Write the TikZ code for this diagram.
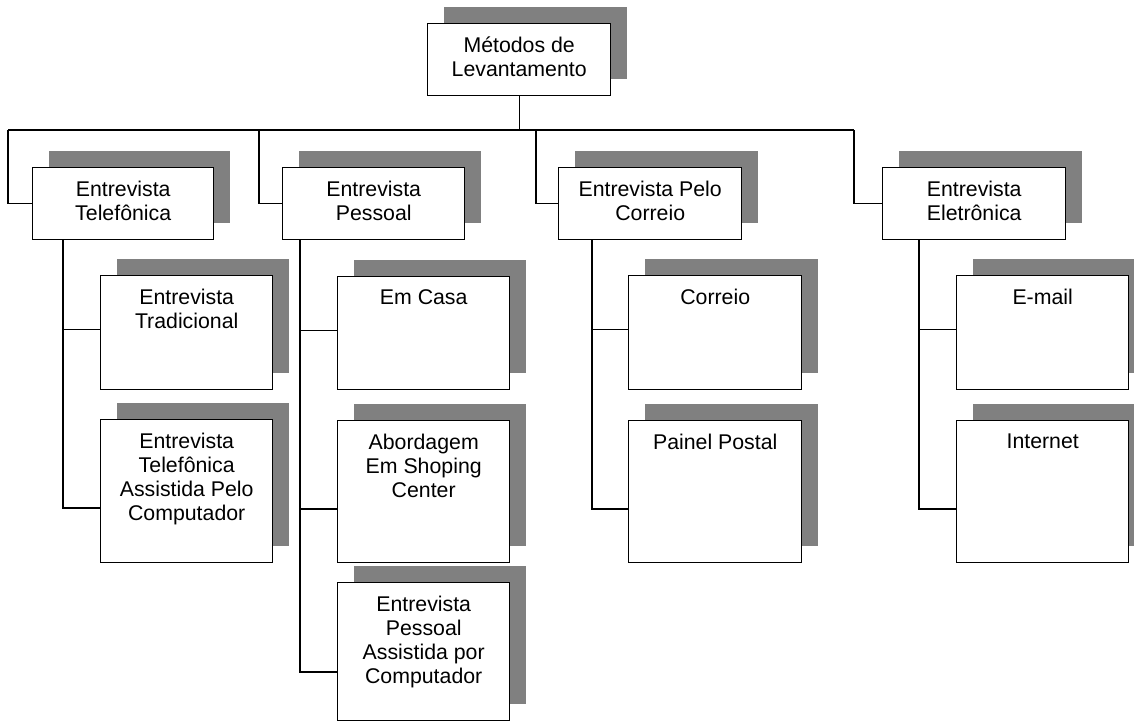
\documentclass[tikz,border=0pt]{standalone}
\usepackage{fontspec}
\setmainfont{Liberation Sans}
\usetikzlibrary{calc}
\definecolor{shadowgray}{HTML}{808080}
\tikzset{
  x=1pt,y=1pt,
  wire/.style={draw=black,line width=1.3pt},
  boxframe/.style={draw=black,fill=white,line width=1.4pt,inner sep=0pt,anchor=north west},
  boxshadow/.style={fill=shadowgray,draw=none},
  boxtext/.style={anchor=north,inner sep=0pt,align=center,font=\fontsize{21.3}{24}\selectfont}
}
% \orgbox{name}{left}{top}{right}{bottom}{text}
\newcommand{\orgbox}[6]{%
  \fill[boxshadow] (#2+17,-#3+16) rectangle (#4+17,-#5+16);
  \node[boxframe,minimum width=#4-#2,minimum height=#5-#3] (#1) at (#2,-#3) {};
  \node[boxtext] (#1-t) at ([yshift=-13.5pt]#1.north) {#6};
}
\begin{document}
\begin{tikzpicture}
\useasboundingbox (0,0) rectangle (1134,-722);
\clip (0,0) rectangle (1134,-722);

\coordinate (bus-l) at (8,-130);
\coordinate (bus-r) at (854,-130);

\orgbox{top}{427}{23}{610}{95}{Métodos de\\Levantamento}

\orgbox{tel}{32}{167}{213}{239}{Entrevista\\Telefônica}
\orgbox{pes}{282}{167}{464}{239}{Entrevista\\Pessoal}
\orgbox{cor}{558}{167}{741}{239}{Entrevista Pelo\\Correio}
\orgbox{ele}{882}{167}{1065}{239}{Entrevista\\Eletrônica}

\orgbox{trad}{100}{275}{272}{389}{Entrevista\\Tradicional}
\orgbox{tas}{100}{419}{272}{562}{Entrevista\\Telefônica\\Assistida Pelo\\Computador}

\orgbox{casa}{337}{276}{509}{389}{Em Casa}
\orgbox{abord}{337}{420}{509}{562}{Abordagem\\Em Shoping\\Center}
\orgbox{epac}{337}{582}{509}{720}{Entrevista\\Pessoal\\Assistida por\\Computador}

\orgbox{correio}{628}{275}{801}{389}{Correio}
\orgbox{painel}{628}{420}{801}{562}{Painel Postal}

\orgbox{email}{956}{275}{1128}{389}{E-mail}
\orgbox{inet}{956}{420}{1128}{562}{Internet}

% top level
\draw[wire] (top.south) -- (top.south |- bus-l);
\draw[wire] (bus-l) -- (bus-r);
\draw[wire] (bus-l) |- (tel.west);
\draw[wire] (259,-130) |- (pes.west);
\draw[wire] (536,-130) |- (cor.west);
\draw[wire] (bus-r) |- (ele.west);

% telefonica children
\coordinate (tel-d) at ($(tel.south west)+(31,0)$);
\draw[wire] (tel-d) |- ([yshift=-89pt]tas.north west);
\draw[wire] ([yshift=3pt]trad.west -| tel-d) -- ([yshift=3pt]trad.west);

% pessoal children
\coordinate (pes-d) at ($(pes.south west)+(18,0)$);
\draw[wire] (pes-d) |- ([yshift=-90pt]epac.north west);
\draw[wire] ([yshift=3pt]casa.west -| pes-d) -- ([yshift=3pt]casa.west);
\draw[wire] ([yshift=-89pt]abord.north west -| pes-d) -- ([yshift=-89pt]abord.north west);

% correio children
\coordinate (cor-d) at ($(cor.south west)+(34,0)$);
\draw[wire] (cor-d) |- ([yshift=-89pt]painel.north west);
\draw[wire] ([yshift=3pt]correio.west -| cor-d) -- ([yshift=3pt]correio.west);

% eletronica children
\coordinate (ele-d) at ($(ele.south west)+(37,0)$);
\draw[wire] (ele-d) |- ([yshift=-89pt]inet.north west);
\draw[wire] ([yshift=3pt]email.west -| ele-d) -- ([yshift=3pt]email.west);
\end{tikzpicture}
\end{document}
